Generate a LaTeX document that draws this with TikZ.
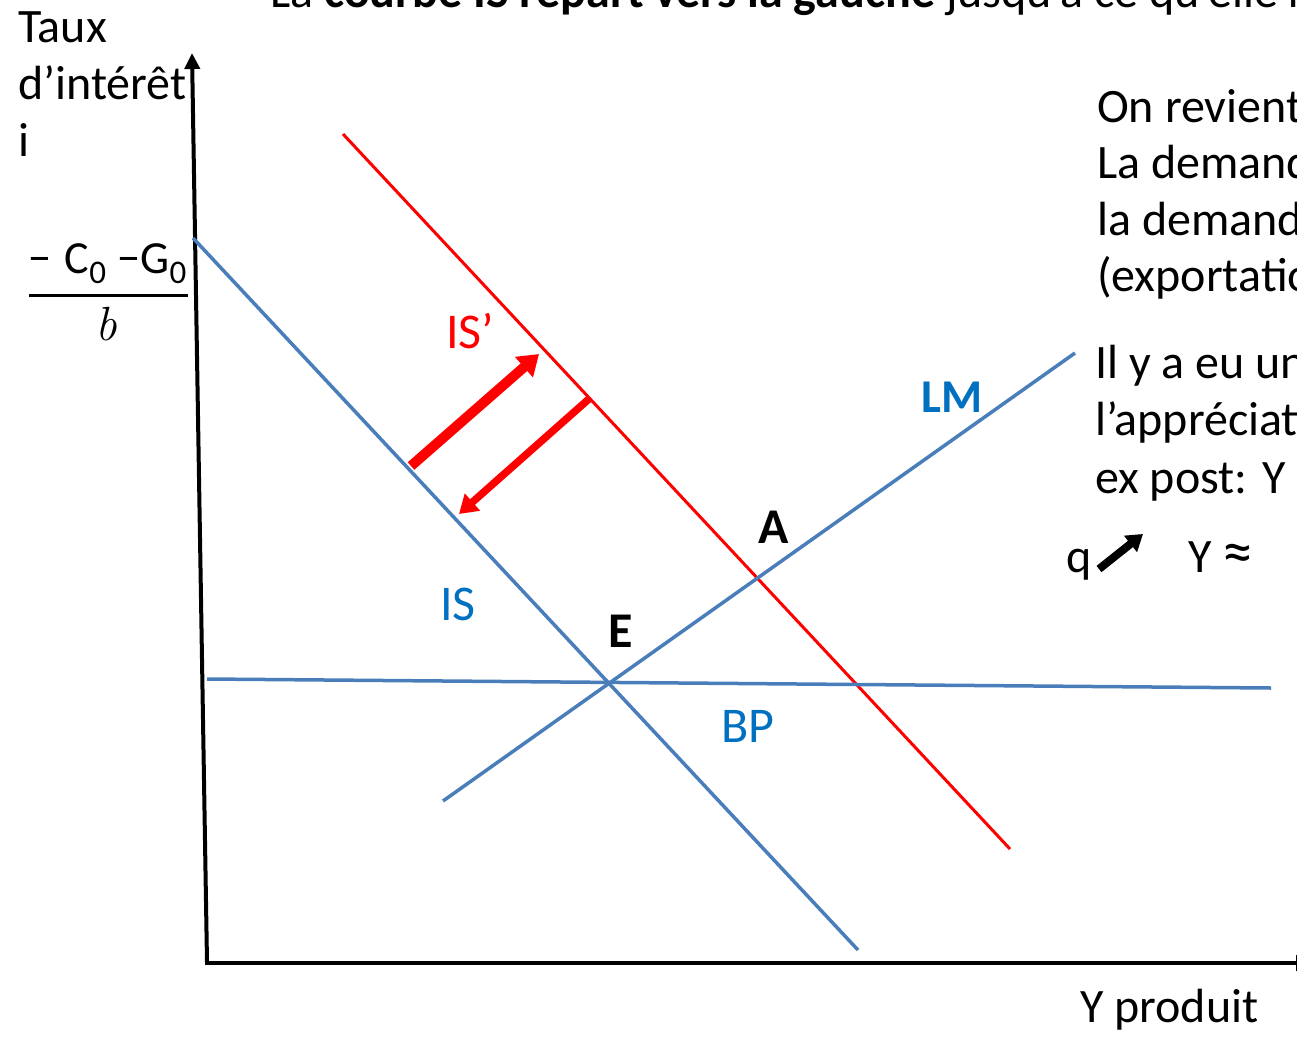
\documentclass[tikz,border=0pt]{standalone}
\usepackage{fontspec}
\setmainfont{Carlito}
\newfontfamily\lmserif{Latin Modern Roman}
\usetikzlibrary{arrows.meta}
\definecolor{lineblue}{RGB}{74,126,187}
\definecolor{txtblue}{RGB}{0,112,192}
\begin{document}
\begin{tikzpicture}[x=1pt,y=-1pt,
  txt/.style={inner sep=0pt, anchor=base west, font=\fontsize{48}{58}\selectfont},
  lbl/.style={inner sep=0pt, anchor=base west, font=\fontsize{50}{60}\selectfont},
  bluecurve/.style={line width=3.5pt, draw=lineblue},
  redcurve/.style={line width=3pt, draw=red},
  axisline/.style={line width=4pt, draw=black},
  shiftarrow/.style={draw=red, line width=#1},
]
\path[use as bounding box] (0,0) rectangle (1297,1041);

% axes
\coordinate (Ytop) at (192,53);
\coordinate (Yorig) at (207,962);
\coordinate (Xorig) at (205,963);
\coordinate (Xend) at (1312,963);
\draw[axisline, -{Triangle[length=16pt,width=15pt]}] (Yorig) -- (Ytop);
\draw[axisline, -{Triangle[length=16pt,width=15pt]}] (Xorig) -- (Xend);

% curves
\coordinate (IS1) at (193,238);   \coordinate (IS2) at (858,950);
\coordinate (ISp1) at (343,134);  \coordinate (ISp2) at (1010,849);
\coordinate (LM1) at (443,801);   \coordinate (LM2) at (1075,353);
\coordinate (BP1) at (207,679);   \coordinate (BP2) at (1271,688);
\draw[bluecurve] (IS1) -- (IS2);
\draw[redcurve] (ISp1) -- (ISp2);
\draw[bluecurve] (LM1) -- (LM2);
\draw[bluecurve] (BP1) -- (BP2);

% shift arrows
\coordinate (a1s) at (411,466); \coordinate (a1e) at (539,354);
\coordinate (a2s) at (590,398); \coordinate (a2e) at (459,514);
\draw[shiftarrow=10pt, -{Triangle[length=20pt,width=26pt]}] (a1s) -- (a1e);
\draw[shiftarrow=7.5pt, -{Triangle[length=18pt,width=22pt]}] (a2s) -- (a2e);

% labels
\node[lbl, text=red] (lISp) at (446,348) {IS’};
\node[lbl, text=txtblue] (lIS) at (440,620) {IS};
\node[lbl, text=txtblue, font=\fontsize{47}{56}\selectfont\bfseries] (lLM) at (921,412) {LM};
\node[lbl, text=txtblue] (lBP) at (721,742) {BP};
\node[lbl, font=\fontsize{50}{60}\selectfont\bfseries] (lA) at (758,543) {A};
\node[lbl, font=\fontsize{50}{60}\selectfont\bfseries] (lE) at (608,647) {E};

% y axis label
\node[txt] (t1) at (18,42) {Taux};
\node[txt] (t2) at (18,99) {d’intérêt};
\node[txt] (t3) at (18,156) {i};

% fraction
\node[inner sep=0pt, anchor=base west, font=\fontsize{46}{46}\selectfont] (num) at (28,273)
  {−\hspace{0.3em}C\raisebox{-10pt}{\fontsize{33}{33}\selectfont 0}\hspace{0.25em}−G\raisebox{-10pt}{\fontsize{33}{33}\selectfont 0}};
\coordinate (fb1) at (29,295); \coordinate (fb2) at (188,295);
\draw[line width=3pt] (fb1) -- (fb2);
\node[inner sep=0pt, anchor=base west, font=\fontsize{48}{48}\selectfont\lmserif\itshape] (den) at (95,340) {b};

% title (clipped at top)
\node[txt] (title) at (270,8) {La \textbf{courbe IS repart vers la gauche} jusqu’à ce qu’elle r};

% right texts
\node[txt] (r1) at (1097,122) {On revient};
\node[txt] (r2) at (1097,178) {La demande};
\node[txt] (r3) at (1097,235) {la demande};
\node[txt] (r4) at (1097,291) {(exportations};
\node[txt] (r5) at (1095,378) {Il y a eu une};
\node[txt] (r6) at (1095,435) {l’appréciation};
\node[txt] (r7) at (1095,493) {ex post: Y e};
\node[txt] (q) at (1066,572) {q};
\node[txt] (yap) at (1188,572) {Y {\fontsize{62}{62}\selectfont ≈}};
\coordinate (qa1) at (1099,569); \coordinate (qa2) at (1143,534);
\draw[line width=8pt, -{Triangle[length=16pt,width=20pt]}] (qa1) -- (qa2);
\node[txt] (yprod) at (1080,1022) {Y produit};
\end{tikzpicture}
\end{document}
